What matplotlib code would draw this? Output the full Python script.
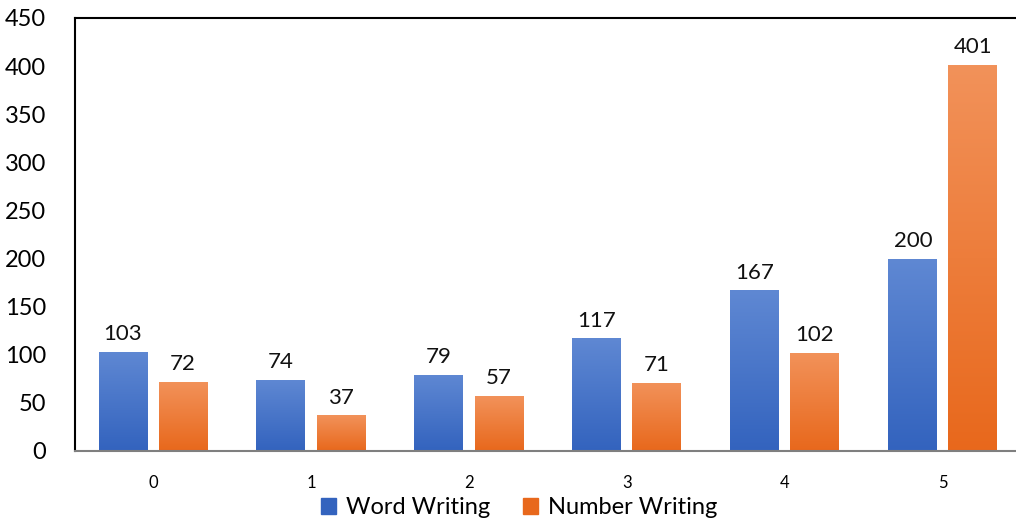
import numpy as np
import matplotlib.pyplot as plt
from matplotlib.colors import LinearSegmentedColormap
from matplotlib.patches import Patch

plt.rcParams['font.family'] = ['Lato', 'DejaVu Sans']

categories = ['0', '1', '2', '3', '4', '5']
word_writing = [103, 74, 79, 117, 167, 200]
number_writing = [72, 37, 57, 71, 102, 401]

blue_top, blue_bottom = '#5f88d3', '#3363be'
orange_top, orange_bottom = '#f2925a', '#e8681c'


def gradient_bars(ax, bars, top, bottom):
    # fill each bar with a vertical gradient, lighter at the top
    cmap = LinearSegmentedColormap.from_list('g', [bottom, top])
    grad = np.linspace(0, 1, 256).reshape(-1, 1)
    for bar in bars:
        x0, y0 = bar.get_x(), bar.get_y()
        w, h = bar.get_width(), bar.get_height()
        bar.set_facecolor('none')
        im = ax.imshow(grad, cmap=cmap, origin='lower', aspect='auto',
                       extent=[x0, x0 + w, y0, y0 + h], zorder=2)
        im.set_clip_path(bar)


fig = plt.figure(figsize=(10.16, 5.21), dpi=100)
ax = fig.add_axes([0.0738, 0.1344, 0.932, 0.8311])

x = np.arange(len(categories))
width = 0.31
off = 0.19
b1 = ax.bar(x - off, word_writing, width, color=blue_top, edgecolor='none',
            label='Word Writing', zorder=2)
b2 = ax.bar(x + off, number_writing, width, color=orange_top, edgecolor='none',
            label='Number Writing', zorder=2)
gradient_bars(ax, b1, blue_top, blue_bottom)
gradient_bars(ax, b2, orange_top, orange_bottom)

for bars, vals in ((b1, word_writing), (b2, number_writing)):
    for bar, v in zip(bars, vals):
        ax.text(bar.get_x() + bar.get_width() / 2, v + 8, str(v),
                ha='center', va='bottom', fontsize=16, color='#111111')

ax.set_xlim(-0.494, 5.5)
ax.set_ylim(0, 450)
ax.set_yticks(range(0, 451, 50))
ax.set_xticks(x)
ax.set_xticklabels(categories)
ax.tick_params(axis='y', length=0, pad=21, labelsize=17)
ax.tick_params(axis='x', length=0, pad=17, labelsize=12)

for side in ('top', 'left'):
    ax.spines[side].set_linewidth(1.5)
    ax.spines[side].set_color('black')
ax.spines['bottom'].set_linewidth(1.5)
ax.spines['bottom'].set_color('#7f7f7f')
ax.spines['right'].set_visible(False)

handles = [Patch(color=blue_bottom), Patch(color=orange_bottom)]
fig.legend(handles, ['Word Writing', 'Number Writing'], loc='center',
           bbox_to_anchor=(0.511, 0.025), ncol=2, frameon=False, fontsize=17,
           handlelength=0.65, handleheight=0.65, handletextpad=0.4,
           columnspacing=1.4)

fig.savefig('out.png', dpi=100)
